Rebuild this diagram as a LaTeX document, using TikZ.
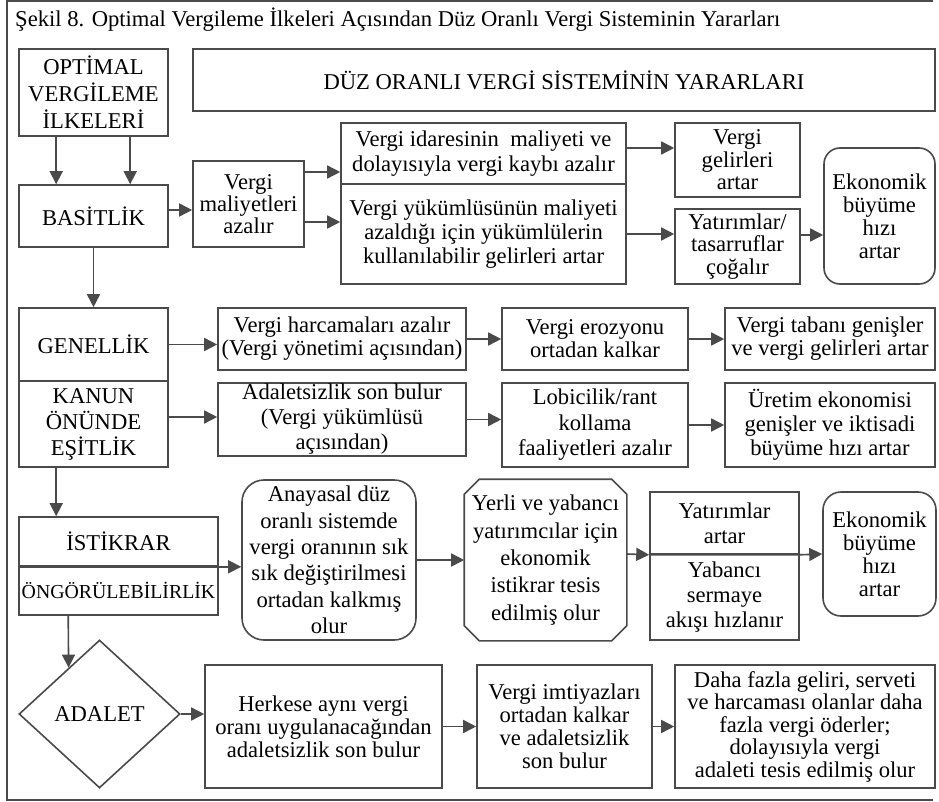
\documentclass[tikz,border=0pt]{standalone}
\usepackage{fontspec}
\setmainfont{Liberation Serif}
\usetikzlibrary{arrows.meta,shapes.geometric,calc}
\definecolor{lc}{HTML}{4A4A4A}
\tikzset{
  txt/.style={font=\fontsize{22.6}{23}\selectfont},
  ls/.style={font=\fontsize{22.6}{#1}\selectfont},
  box/.style={draw=lc, line width=1.6pt, rectangle, inner sep=0pt, align=center, txt},
  sz/.style 2 args={minimum width=#1pt, minimum height=#2pt},
  arr/.style={draw=lc, line width=1.6pt, -{Triangle[length=13pt,width=13pt]}},
  frame/.style={draw=lc, line width=1.6pt},
  outline/.style={draw=lc, line width=1.6pt},
}
\begin{document}
\begin{tikzpicture}[x=1pt,y=-1pt]
\useasboundingbox (0,0) rectangle (939,802);
% outer frame
\draw[frame] (933,1) -- (7,1) -- (7,800) -- (933,800);
\node[anchor=base west, txt, inner sep=0pt] (title) at (15,27)
  {Şekil 8. Optimal Vergileme İlkeleri Açısından Düz Oranlı Vergi Sisteminin Yararları};

% top block
\node[box, sz={149}{87}, ls=27] (optimal) at (93.5,92.5) {OPTİMAL\\VERGİLEME\\İLKELERİ};
\node[box, sz={742}{62}] (header) at (564,80) {DÜZ ORANLI VERGİ SİSTEMİNİN YARARLARI};
\node[box, sz={149}{62}] (basit) at (93.5,216) {BASİTLİK};
\node[box, sz={111}{86}, ls=22] (vma) at (248.5,204) {Vergi\\maliyetleri\\azalır};
\node[box, sz={285}{61}, ls=25] (idare) at (483.5,153.5) {Vergi idaresinin~ maliyeti ve\\dolayısıyla vergi kaybı azalır};
\node[box, sz={285}{100}, ls=24] (yukum) at (483.5,234) {Vergi yükümlüsünün maliyeti\\azaldığı için yükümlülerin\\kullanılabilir gelirleri artar};
\node[box, sz={125}{74}, ls=22.5] (gelir) at (737.5,160) {Vergi\\gelirleri\\artar};
\node[box, sz={125}{75}, ls=22.5] (yatir) at (737.5,246.5) {Yatırımlar/\\tasarruflar\\çoğalır};
\node[box, rounded corners=16pt, sz={111}{136}] (eko1) at (879.5,216) {Ekonomik\\büyüme\\hızı\\artar};

% generality and equality
\node[box, sz={149}{73}] (genel) at (93.5,344.5) {GENELLİK};
\node[box, sz={149}{86}, ls=26] (kanun) at (93.5,424) {KANUN\\ÖNÜNDE\\EŞİTLİK};
\node[box, sz={248}{62}] (harca) at (342,339) {Vergi harcamaları azalır\\(Vergi yönetimi açısından)};
\node[box, sz={248}{73}, ls=25] (adalet1) at (342,419.5) {Adaletsizlik son bulur\\(Vergi yükümlüsü\\açısından)};
\node[box, sz={186}{62}] (erozyon) at (595,339) {Vergi erozyonu\\ortadan kalkar};
\node[box, sz={210}{62}] (taban) at (830,339) {Vergi tabanı genişler\\ve vergi gelirleri artar};
\node[box, sz={186}{84}, ls=25.5] (lobi) at (595,425) {Lobicilik/rant\\kollama\\faaliyetleri azalır};
\node[box, sz={210}{84}, ls=24] (uretim) at (830,425) {Üretim ekonomisi\\genişler ve iktisadi\\büyüme hızı artar};

% stability and predictability
\node[box, sz={199}{49}] (istikrar) at (118.5,541.5) {İSTİKRAR};
\node[box, sz={199}{49}, font=\fontsize{19.8}{23}\selectfont] (ongoru) at (118.5,590.5) {ÖNGÖRÜLEBİLİRLİK};
\node[box, rounded corners=22pt, sz={174}{160}, ls=26.4] (anayasa) at (329,560)
  {Anayasal düz\\oranlı sistemde\\vergi oranının sık\\sık değiştirilmesi\\ortadan kalkmış\\olur};
\node[box, draw=none, sz={161}{160}, ls=27.3] (yerli) at (545.5,560)
  {Yerli ve yabancı\\yatırımcılar için\\ekonomik\\istikrar tesis\\edilmiş olur};
\draw[outline] ([xshift=15pt]yerli.north west) -- ([xshift=-15pt]yerli.north east)
  -- ([yshift=-15pt]yerli.north east) -- ([yshift=15pt]yerli.south east)
  -- ([xshift=-15pt]yerli.south east) -- ([xshift=15pt]yerli.south west)
  -- ([yshift=15pt]yerli.south west) -- ([yshift=-15pt]yerli.north west) -- cycle;
\node[box, sz={149}{62}, ls=25] (yatartar) at (724.5,523) {Yatırımlar\\artar};
\node[box, sz={149}{86}, ls=25] (yabanci) at (724.5,597) {Yabancı\\sermaye\\akışı hızlanır};
\node[box, rounded corners=18pt, sz={113}{124}] (eko2) at (879.5,554) {Ekonomik\\büyüme\\hızı\\artar};

% justice
\node[box, diamond, minimum width=161pt, minimum height=148pt] (adaletd) at (99.5,714) {ADALET};
\node[box, sz={237}{123}] (herkes) at (323.5,726.5) {Herkese aynı vergi\\oranı uygulanacağından\\adaletsizlik son bulur};
\node[box, sz={175}{123}] (imtiyaz) at (564.5,726.5) {Vergi imtiyazları\\ortadan kalkar\\ve adaletsizlik\\son bulur};
\node[box, sz={260}{123}, ls=22.5] (fazla) at (805,726.5) {Daha fazla geliri, serveti\\ve harcaması olanlar daha\\fazla vergi öderler;\\dolayısıyla vergi\\adaleti tesis edilmiş olur};

% connectors
\draw[arr] ($(optimal.south west)+(38,0)$) -- ($(basit.north west)+(38,0)$);
\draw[arr] ($(optimal.south west)+(112,0)$) -- ($(basit.north west)+(112,0)$);
\draw[arr] ([yshift=6pt]basit.east) -- ([yshift=6pt]basit.east -| vma.west);
\draw[arr] ([yshift=32pt]vma.east) -- ([yshift=32pt]vma.east -| idare.west);
\draw[arr] ([yshift=-18pt]vma.east) -- ([yshift=-18pt]vma.east -| yukum.west);
\draw[arr] ([yshift=5.5pt]idare.east) -- ([yshift=5.5pt]idare.east -| gelir.west);
\draw[arr] (yukum.east) -- (yukum.east -| yatir.west);
\draw[arr] ([yshift=11.5pt]yatir.east) -- ([yshift=11.5pt]yatir.east -| eko1.west);
\draw[arr] (basit.south) -- (genel.north);
\draw[arr] (genel.east) -- (genel.east -| harca.west);
\draw[arr] ([yshift=7pt]kanun.east) -- ([yshift=7pt]kanun.east -| adalet1.west);
\draw[arr] (harca.east) -- (erozyon.west);
\draw[arr] (erozyon.east) -- (taban.west);
\draw[arr] (adalet1.east) -- (adalet1.east -| lobi.west);
\draw[arr] (lobi.east) -- (uretim.west);
\draw[arr] ($(kanun.south west)+(38,0)$) -- ($(istikrar.north west)+(38,0)$);
\draw[arr] (istikrar.south west) -- (istikrar.south west -| anayasa.west);
\draw[arr] (anayasa.east) -- (yerli.west);
\draw[arr] ([yshift=6pt]yerli.east) -- (yatartar.south west);
\draw[arr] (yatartar.south west) -- (yatartar.south east) -- (eko2.west);
\draw[arr] ($(ongoru.south west)+(50,0)$) -- ($(adaletd.north)!0.38!(adaletd.west)$);
\draw[arr] (adaletd.east) -- (adaletd.east -| herkes.west);
\draw[arr] (herkes.east) -- (imtiyaz.west);
\draw[arr] (imtiyaz.east) -- (fazla.west);
\end{tikzpicture}
\end{document}
